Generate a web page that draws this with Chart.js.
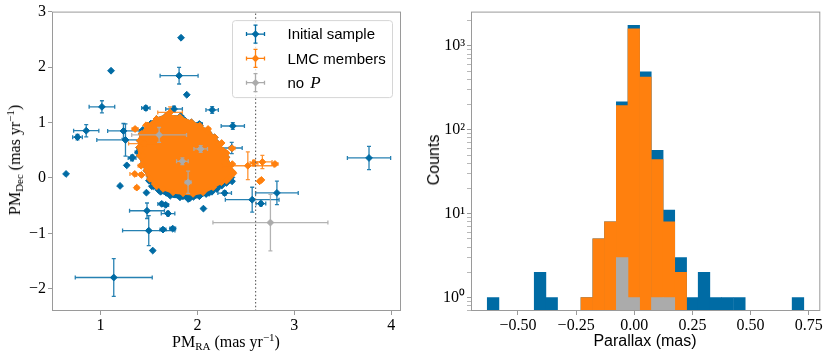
<!DOCTYPE html>
<html>
<head>
<meta charset="utf-8">
<script src="https://cdn.jsdelivr.net/npm/chart.js@4.4.0/dist/chart.umd.min.js"></script>
<style>
    body { margin: 0; background: #fff; }
    #wrap { position: relative; width: 830px; height: 357px; overflow: hidden; }
    canvas { position: absolute; top: 0; }
    .lbl { position: absolute; font-size: 16px; color: #000; white-space: nowrap; line-height: 1; }
    .serif { font-family: 'Liberation Serif', serif; }
    .sans { font-family: 'Liberation Sans', sans-serif; }
    .lbl sub { font-size: 11px; vertical-align: -3px; }
    .lbl sup { font-size: 11px; vertical-align: 6px; }
</style>
</head>
<body>
<div id="wrap">
    <canvas id="pmChart" width="415" height="357" style="left:0;width:415px;height:357px"></canvas>
    <canvas id="plxChart" width="415" height="357" style="left:415px;width:415px;height:357px"></canvas>
    <div class="lbl serif" style="left:15px;top:160px;transform:translate(-50%,-50%) rotate(-90deg)">PM<sub>Dec</sub> (mas yr<sup>&minus;1</sup>)</div>
    <div class="lbl serif" style="left:226px;top:342px;transform:translate(-50%,-50%)">PM<sub>RA</sub> (mas yr<sup>&minus;1</sup>)</div>
    <div class="lbl sans" style="left:434px;top:160px;transform:translate(-50%,-50%) rotate(-90deg)">Counts</div>
    <div class="lbl sans" style="left:645px;top:341px;transform:translate(-50%,-50%)">Parallax (mas)</div>
</div>
<script>
/**------------------------------------------------------------------------------------------------  DATA  */
// initial sample: stars visible outside the LMC cloud (RA, Dec, errors in mas/yr)
const initRA     = [1.811, 1.015, 0.853, 0.763, 1.237, 1.258, 1.468, 1.759, 2.152, 2.365, 3.770, 2.354, 2.565, 2.820, 2.655, 2.281, 1.480, 1.498, 1.137, 1.632, 1.673, 1.697, 1.645, 1.745, 1.326, 2.020, 1.388, 1.109, 1.831, 1.890, 0.645, 1.202, 1.474, 2.062, 1.271, 1.539, 2.357, 2.127, 1.436, 1.828, 1.866, 1.676, 1.330, 1.530, 1.600, 1.680, 1.760, 1.850, 1.905, 1.960, 2.030, 2.090, 2.150, 2.200, 2.250, 2.300, 1.520, 1.570];
const initDec    = [1.844, 1.282, 0.852, 0.736, 0.847, 0.685, 1.261, 1.243, 1.227, 0.937, 0.360, 0.540, -0.393, -0.270, -0.463, -0.273, -0.592, -0.950, -1.796, -0.468, -0.486, -0.643, -0.932, -0.914, 0.360, 0.973, 0.462, 1.933, 2.528, 1.500, 0.072, -0.144, -0.265, -0.553, 0.227, -1.310, -0.061, 0.610, 0.865, 1.117, 1.045, 1.099, 0.370, -0.150, -0.220, -0.270, -0.300, -0.330, -0.380, -0.340, -0.310, -0.290, -0.250, -0.200, -0.140, -0.090, 0.980, 1.030];
const initRAerr  = [0.196, 0.132, 0.130, 0.050, 0.163, 0.296, 0.043, 0.086, 0.064, 0.120, 0.223, 0.108, 0.277, 0.220, 0.050, 0.070, 0.180, 0.270, 0.397, 0.040, 0.030, 0.070, 0.030, 0.030, 0.040, 0.030, 0.030, 0, 0, 0, 0, 0, 0, 0, 0, 0, 0, 0, 0, 0, 0, 0, 0, 0, 0, 0, 0, 0, 0, 0, 0, 0, 0, 0, 0, 0, 0, 0];
const initDecerr = [0.150, 0.110, 0.110, 0.050, 0.135, 0.290, 0.040, 0.050, 0.060, 0.060, 0.210, 0.100, 0.225, 0.213, 0.040, 0.040, 0.140, 0.270, 0.340, 0.030, 0.030, 0.040, 0.030, 0.030, 0.050, 0.030, 0.060, 0, 0, 0, 0, 0, 0, 0, 0, 0, 0, 0, 0, 0, 0, 0, 0, 0, 0, 0, 0, 0, 0, 0, 0, 0, 0, 0, 0, 0, 0, 0];

// outline of the dense clouds (initial sample behind, LMC members in front)
const initHullRA  = [1.491, 1.577, 1.680, 1.818, 1.938, 2.024, 2.110, 2.179, 2.213, 2.265, 2.299, 2.333, 2.360, 2.350, 2.290, 2.210, 2.120, 2.020, 1.920, 1.820, 1.720, 1.620, 1.550, 1.500, 1.474, 1.440, 1.405, 1.399, 1.405, 1.423, 1.491];
const initHullDec = [0.943, 1.063, 1.123, 1.093, 1.003, 0.943, 0.823, 0.733, 0.613, 0.492, 0.372, 0.222, 0.102, 0.010, -0.080, -0.170, -0.270, -0.330, -0.370, -0.350, -0.320, -0.250, -0.150, -0.050, 0.132, 0.252, 0.402, 0.553, 0.673, 0.793, 0.943];
const lmcHullRA   = [1.491, 1.577, 1.680, 1.818, 1.938, 2.024, 2.110, 2.179, 2.213, 2.265, 2.299, 2.333, 2.368, 2.333, 2.247, 2.162, 2.058, 1.955, 1.852, 1.749, 1.646, 1.560, 1.509, 1.474, 1.440, 1.405, 1.399, 1.405, 1.423, 1.491];
const lmcHullDec  = [0.943, 1.063, 1.123, 1.093, 1.003, 0.943, 0.823, 0.733, 0.613, 0.492, 0.372, 0.222, 0.102, 0.012, -0.078, -0.168, -0.258, -0.288, -0.276, -0.258, -0.198, -0.108, -0.018, 0.132, 0.252, 0.402, 0.553, 0.673, 0.793, 0.943];

// LMC members visible around the cloud
const lmcRA     = [1.718, 1.357, 1.450, 1.354, 1.423, 1.374, 1.419, 2.520, 2.584, 2.670, 2.800, 2.660, 2.642, 2.357, 2.110, 2.370, 1.440, 1.420, 1.470, 2.250, 2.300, 2.360, 2.300, 1.580];
const lmcDec    = [1.182, 0.883, 0.620, 0.072, 0.054, -0.175, 0.220, 0.220, 0.270, 0.288, 0.252, -0.036, -0.060, 0.535, 0.883, 0.080, 0.400, 0.500, 0.950, 0.630, 0.450, 0.250, -0.050, -0.150];
const lmcRAerr  = [0.127, 0.030, 0.160, 0.050, 0.050, 0.020, 0.030, 0.270, 0.040, 0.100, 0.030, 0, 0, 0.030, 0.020, 0, 0, 0, 0, 0, 0, 0, 0, 0];
const lmcDecerr = [0.100, 0.030, 0.040, 0.030, 0.030, 0.020, 0.030, 0.250, 0.050, 0.120, 0.030, 0, 0, 0.030, 0.020, 0, 0, 0, 0, 0, 0, 0, 0, 0];

// stars without period
const noPRA     = [1.605, 2.034, 1.845, 1.904, 2.753];
const noPDec    = [0.775, 0.523, 0.300, -0.078, -0.805];
const noPRAerr  = [0.283, 0.070, 0.060, 0.030, 0.593];
const noPDecerr = [0.135, 0.060, 0.060, 0.200, 0.510];

const raCut = 2.6;
const pmRATicks = [1, 2, 3, 4];
const pmDecTicks = [-2, -1, 0, 1, 2, 3];

// parallax histogram: bin centres (mas) and counts
const plxBins = [-0.607, -0.556, -0.506, -0.456, -0.405, -0.355, -0.304, -0.254, -0.204, -0.153, -0.103, -0.052, -0.002, 0.048, 0.099, 0.149, 0.200, 0.250, 0.300, 0.351, 0.401, 0.452, 0.502, 0.552, 0.603, 0.653, 0.704];
const initCounts = [1, 0, 0, 0, 2, 1, 0, 0, 1, 5, 8, 215, 1760, 490, 57, 11, 3, 1, 2, 1, 1, 1, 0, 0, 0, 0, 1];
const lmcCounts  = [0, 0, 0, 0, 0, 0, 0, 0, 1, 5, 8, 195, 1600, 425, 44, 8, 2, 0, 0, 0, 0, 0, 0, 0, 0, 0, 0];
const noPCounts  = [0, 0, 0, 0, 0, 0, 0, 0, 0, 0, 0, 3, 1, 0, 1, 1, 0, 0, 0, 0, 0, 0, 0, 0, 0, 0, 0];
const plxTicks = [-0.5, -0.25, 0, 0.25, 0.5, 0.75];
const countDecades = [1, 10, 100, 1000];
const decadeLabels = ['10⁰', '10¹', '10²', '10³'];

const legendLabels = ['Initial sample', 'LMC members', 'no '];

/**------------------------------------------------------------------------------------------------  STYLE  */
const BLUE = '#006BA4';
const ORANGE = '#FF800E';
const GREY = '#ABABAB';
const SPINE = '#9a9a9a';

Chart.defaults.font.family = "'Liberation Serif', serif";
Chart.defaults.font.size = 16;
Chart.defaults.color = '#000';

const minus = (s) => s.replace('-', '\u2212');
const pts = (xs, ys) => xs.map((x, i) => ({x: x, y: ys[i]}));

/**------------------------------------------------------------------------------------------------  PLUGINS  */
const framePlugin = {
    id: 'frame',
    afterDatasetsDraw: (chart) => {
        const {ctx, chartArea: a} = chart;
        ctx.save();
        ctx.strokeStyle = SPINE;
        ctx.lineWidth = 1;
        ctx.strokeRect(a.left + 0.5, a.top + 0.5, a.right - a.left - 1, a.bottom - a.top - 1);
        ctx.restore();
    }
};

const errorBarPlugin = {
    id: 'errorBars',
    beforeDatasetDraw: (chart, args) => {
        const ds = chart.data.datasets[args.index];
        if (!ds.xErr) return;
        const xs = chart.scales.x, ys = chart.scales.y, ctx = chart.ctx, a = chart.chartArea;
        ctx.save();
        ctx.beginPath();
        ctx.rect(a.left, a.top, a.right - a.left, a.bottom - a.top);
        ctx.clip();
        ctx.strokeStyle = ds.errColor;
        ctx.lineWidth = 1.3;
        ds.data.forEach((p, i) => {
            const ex = ds.xErr[i], ey = ds.yErr[i];
            const cx = xs.getPixelForValue(p.x), cy = ys.getPixelForValue(p.y);
            ctx.beginPath();
            if (ex > 0) {
                const l = xs.getPixelForValue(p.x - ex), r = xs.getPixelForValue(p.x + ex);
                ctx.moveTo(l, cy); ctx.lineTo(r, cy);
                ctx.moveTo(l, cy - 2); ctx.lineTo(l, cy + 2);
                ctx.moveTo(r, cy - 2); ctx.lineTo(r, cy + 2);
            }
            if (ey > 0) {
                const t = ys.getPixelForValue(p.y + ey), b = ys.getPixelForValue(p.y - ey);
                ctx.moveTo(cx, t); ctx.lineTo(cx, b);
                ctx.moveTo(cx - 2, t); ctx.lineTo(cx + 2, t);
                ctx.moveTo(cx - 2, b); ctx.lineTo(cx + 2, b);
            }
            ctx.stroke();
        });
        ctx.restore();
    }
};

const legendPlugin = {
    id: 'insetLegend',
    afterDraw: (chart) => {
        const ctx = chart.ctx, a = chart.chartArea;
        const bx = a.left + 180, by = a.top + 8.5;
        const colours = [BLUE, ORANGE, GREY];
        ctx.save();
        ctx.fillStyle = 'rgba(255,255,255,0.8)';
        ctx.strokeStyle = '#d6d6d6';
        ctx.lineWidth = 1;
        ctx.beginPath();
        ctx.roundRect(bx + 0.5, by + 0.5, 160, 77, 3);
        ctx.fill();
        ctx.stroke();
        legendLabels.forEach((label, i) => {
            const x = bx + 23.5, y = by + 14 + i * 24.3;
            ctx.strokeStyle = colours[i];
            ctx.lineWidth = 1.3;
            ctx.beginPath();
            ctx.moveTo(x - 9, y); ctx.lineTo(x + 9, y);
            ctx.moveTo(x, y - 9); ctx.lineTo(x, y + 9);
            ctx.moveTo(x - 9, y - 2); ctx.lineTo(x - 9, y + 2);
            ctx.moveTo(x + 9, y - 2); ctx.lineTo(x + 9, y + 2);
            ctx.moveTo(x - 2, y - 9); ctx.lineTo(x + 2, y - 9);
            ctx.moveTo(x - 2, y + 9); ctx.lineTo(x + 2, y + 9);
            ctx.stroke();
            ctx.fillStyle = colours[i];
            ctx.beginPath();
            ctx.moveTo(x - 3.8, y); ctx.lineTo(x, y - 3.8); ctx.lineTo(x + 3.8, y); ctx.lineTo(x, y + 3.8);
            ctx.closePath();
            ctx.fill();
            ctx.fillStyle = '#000';
            ctx.textBaseline = 'middle';
            ctx.font = "15px 'Liberation Sans', sans-serif";
            ctx.fillText(label, bx + 55.5, y + 1);
            if (i === 2) {
                const w = ctx.measureText(label).width;
                ctx.font = "italic 17px 'Liberation Serif', serif";
                ctx.fillText('P', bx + 55.5 + w + 2, y + 1);
            }
        });
        ctx.restore();
    }
};

/**------------------------------------------------------------------------------------------------  CHARTS  */
const tickGrid = {display: true, drawOnChartArea: false, drawTicks: true, tickLength: 4, tickColor: SPINE, tickWidth: 1};

const scatterPoint = (colour) => ({
    showLine: false,
    pointStyle: 'rectRot',
    pointRadius: 3.4,
    pointBorderWidth: 1,
    backgroundColor: colour,
    borderColor: colour
});

const hull = (xs, ys, colour, order) => Object.assign(scatterPoint(colour), {
    data: pts(xs, ys),
    showLine: true,
    tension: 0,
    fill: 'shape',
    borderWidth: 3,
    order: order
});

const pmConfig = {
    type: 'scatter',
    data: {
        datasets: [
            hull(initHullRA, initHullDec, BLUE, 7),
            Object.assign(scatterPoint(BLUE), {
                label: 'Initial sample', data: pts(initRA, initDec),
                xErr: initRAerr, yErr: initDecerr, errColor: 'rgba(0,107,164,0.85)', order: 6
            }),
            hull(lmcHullRA, lmcHullDec, ORANGE, 5),
            Object.assign(scatterPoint(ORANGE), {
                label: 'LMC members', data: pts(lmcRA, lmcDec),
                xErr: lmcRAerr, yErr: lmcDecerr, errColor: 'rgba(255,128,14,0.85)', order: 4
            }),
            Object.assign(scatterPoint(GREY), {
                label: 'no P', data: pts(noPRA, noPDec),
                xErr: noPRAerr, yErr: noPDecerr, errColor: 'rgba(171,171,171,0.9)', order: 3
            }),
            {
                data: [{x: raCut, y: -2.4}, {x: raCut, y: 3}],
                showLine: true, pointRadius: 0, borderColor: '#666', borderWidth: 1.2,
                borderDash: [1.5, 2.2], order: 1
            }
        ]
    },
    options: {
        responsive: false,
        animation: false,
        events: [],
        layout: {padding: {top: 11, right: 14, left: 0, bottom: 0}},
        plugins: {legend: {display: false}, tooltip: {enabled: false}},
        scales: {
            x: {
                type: 'linear', min: 0.5, max: 4.1,
                afterBuildTicks: (s) => { s.ticks = pmRATicks.map(v => ({value: v})); },
                afterFit: (s) => { s.height = 46; },
                grid: tickGrid, border: {display: false},
                ticks: {padding: 1, maxRotation: 0, callback: (v) => minus(String(v))}
            },
            y: {
                type: 'linear', min: -2.4, max: 3,
                afterBuildTicks: (s) => { s.ticks = pmDecTicks.map(v => ({value: v})); },
                afterFit: (s) => { s.width = 52; },
                grid: tickGrid, border: {display: false},
                ticks: {padding: 2, callback: (v) => minus(String(v))}
            }
        }
    },
    plugins: [errorBarPlugin, framePlugin, legendPlugin]
};

const histSet = (label, counts, colour, order) => ({
    label: label,
    data: pts(plxBins, counts),
    backgroundColor: colour,
    borderWidth: 0,
    grouped: false,
    barPercentage: 1,
    categoryPercentage: 1,
    order: order
});

const minorCounts = [];
[0.1, 1, 10, 100, 1000].forEach(d => [2, 3, 4, 5, 6, 7, 8, 9].forEach(m => minorCounts.push(d * m)));

const plxConfig = {
    type: 'bar',
    data: {
        datasets: [
            histSet('Initial sample', initCounts, BLUE, 3),
            histSet('LMC members', lmcCounts, ORANGE, 2),
            histSet('no P', noPCounts, GREY, 1)
        ]
    },
    options: {
        responsive: false,
        animation: false,
        events: [],
        layout: {padding: {top: 11, right: 9.7, left: 0, bottom: 0}},
        plugins: {legend: {display: false}, tooltip: {enabled: false}},
        scales: {
            x: {
                type: 'linear', min: -0.702, max: 0.80, offset: false,
                afterBuildTicks: (s) => { s.ticks = plxTicks.map(v => ({value: v})); },
                afterFit: (s) => { s.height = 46; },
                grid: Object.assign({}, tickGrid, {offset: false}), border: {display: false},
                ticks: {padding: 1, maxRotation: 0, callback: (v) => minus(v.toFixed(2))}
            },
            y: {
                type: 'logarithmic', min: 0.69, max: 2570,
                afterBuildTicks: (s) => {
                    const all = countDecades.concat(minorCounts).filter(v => v >= 0.69 && v <= 2570);
                    s.ticks = all.sort((p, q) => p - q).map(v => ({value: v}));
                },
                afterFit: (s) => { s.width = 56; },
                grid: Object.assign({}, tickGrid, {
                    tickLength: 4,
                    tickWidth: (c) => countDecades.includes(c.tick && c.tick.value) ? 1 : 0.7
                }),
                border: {display: false},
                ticks: {
                    padding: 2,
                    autoSkip: false,
                    callback: (v) => {
                        const k = countDecades.indexOf(v);
                        return k >= 0 ? decadeLabels[k] : '';
                    }
                }
            }
        }
    },
    plugins: [framePlugin]
};

new Chart(document.getElementById('pmChart'), pmConfig);
new Chart(document.getElementById('plxChart'), plxConfig);
</script>
</body>
</html>
